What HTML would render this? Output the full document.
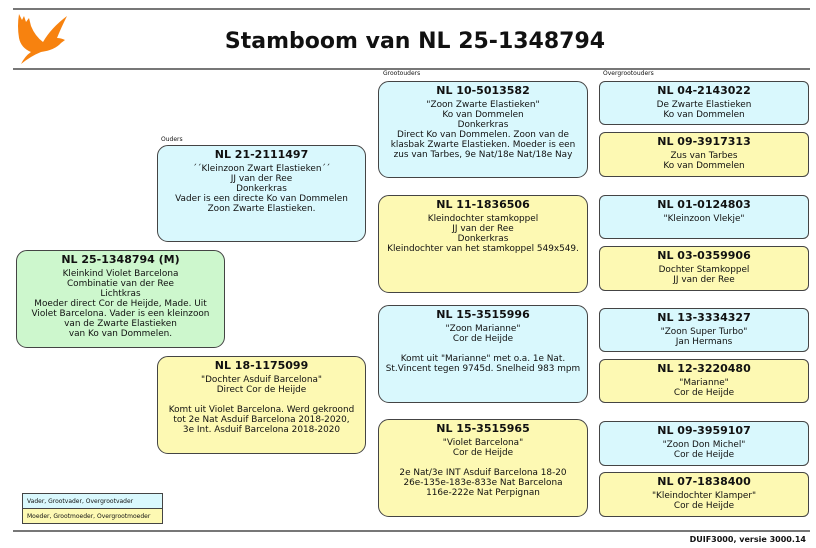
<!DOCTYPE html>
<html><head><meta charset="utf-8"><style>
*{margin:0;padding:0;box-sizing:border-box}
body{width:816px;height:548px;background:#fff;position:relative;overflow:hidden;font-family:"DejaVu Sans","Liberation Sans",sans-serif;color:#111}
.hl{position:absolute;left:13px;width:797px;height:2px;background:#777}
.b{position:absolute;border:1.3px solid #444;border-radius:11px;text-align:center;font-size:8.9px;line-height:10px;padding-top:2px;white-space:nowrap}
.s{border-radius:6px}
.b h{display:block;font-weight:bold;font-size:11px;line-height:14px;margin-bottom:2px}
.bl{background:#d9f8fd}.ye{background:#fdf9b3}.gr{background:#cdf7cd}
.lab{position:absolute;font-size:6px}
</style></head><body>
<div class="hl" style="top:8px"></div>
<div class="hl" style="top:68px"></div>
<svg style="position:absolute;left:15px;top:10px" width="54" height="56" viewBox="0 0 54 56">
<path d="M4 4 L7 10 L9 6 L11 12 L14 8 L16 16 Q20 26 28 32 Q36 18 52 6 Q46 18 42 28 Q46 28 50 30 L46 33 Q40 40 26 42 Q16 46 6 54 Q10 46 16 42 Q6 38 4 28 Q2 16 4 4 Z" fill="#f7820f"/>
</svg>
<div style="position:absolute;left:0;width:816px;top:28px;text-align:center;font-weight:bold;font-size:22px;line-height:28px;padding-left:14px">Stamboom van NL 25-1348794</div>
<div class="lab" style="left:161px;top:136px">Ouders</div>
<div class="lab" style="left:383px;top:70px">Grootouders</div>
<div class="lab" style="left:603px;top:70px">Overgrootouders</div>

<div class="b gr" style="left:16px;top:250px;width:209px;height:98px"><h>NL 25-1348794 (M)</h>Kleinkind Violet Barcelona<br>Combinatie van der Ree<br>Lichtkras<br>Moeder direct Cor de Heijde, Made. Uit<br>Violet Barcelona. Vader is een kleinzoon<br>van de Zwarte Elastieken<br>van Ko van Dommelen.</div>

<div class="b bl" style="left:157px;top:145px;width:209px;height:97px"><h>NL 21-2111497</h>´´Kleinzoon Zwart Elastieken´´<br>JJ van der Ree<br>Donkerkras<br>Vader is een directe Ko van Dommelen<br>Zoon Zwarte Elastieken.</div>
<div class="b ye" style="left:157px;top:356px;width:209px;height:98px"><h>NL 18-1175099</h>"Dochter Asduif Barcelona"<br>Direct Cor de Heijde<br><br>Komt uit Violet Barcelona. Werd gekroond<br>tot 2e Nat Asduif Barcelona 2018-2020,<br>3e Int. Asduif Barcelona 2018-2020</div>

<div class="b bl" style="left:378px;top:81px;width:210px;height:97px"><h>NL 10-5013582</h>"Zoon Zwarte Elastieken"<br>Ko van Dommelen<br>Donkerkras<br>Direct Ko van Dommelen. Zoon van de<br>klasbak Zwarte Elastieken. Moeder is een<br>zus van Tarbes, 9e Nat/18e Nat/18e Nay</div>
<div class="b ye" style="left:378px;top:195px;width:210px;height:98px"><h>NL 11-1836506</h>Kleindochter stamkoppel<br>JJ van der Ree<br>Donkerkras<br>Kleindochter van het stamkoppel 549x549.</div>
<div class="b bl" style="left:378px;top:305px;width:210px;height:98px"><h>NL 15-3515996</h>"Zoon Marianne"<br>Cor de Heijde<br><br>Komt uit "Marianne" met o.a. 1e Nat.<br>St.Vincent tegen 9745d. Snelheid 983 mpm</div>
<div class="b ye" style="left:378px;top:419px;width:210px;height:98px"><h>NL 15-3515965</h>"Violet Barcelona"<br>Cor de Heijde<br><br>2e Nat/3e INT Asduif Barcelona 18-20<br>26e-135e-183e-833e Nat Barcelona<br>116e-222e Nat Perpignan</div>

<div class="b s bl" style="left:599px;top:81px;width:210px;height:44px"><h>NL 04-2143022</h>De Zwarte Elastieken<br>Ko van Dommelen</div>
<div class="b s ye" style="left:599px;top:132px;width:210px;height:45px"><h>NL 09-3917313</h>Zus van Tarbes<br>Ko van Dommelen</div>
<div class="b s bl" style="left:599px;top:195px;width:210px;height:44px"><h>NL 01-0124803</h>"Kleinzoon Vlekje"</div>
<div class="b s ye" style="left:599px;top:246px;width:210px;height:45px"><h>NL 03-0359906</h>Dochter Stamkoppel<br>JJ van der Ree</div>
<div class="b s bl" style="left:599px;top:308px;width:210px;height:44px"><h>NL 13-3334327</h>"Zoon Super Turbo"<br>Jan Hermans</div>
<div class="b s ye" style="left:599px;top:359px;width:210px;height:44px"><h>NL 12-3220480</h>"Marianne"<br>Cor de Heijde</div>
<div class="b s bl" style="left:599px;top:421px;width:210px;height:45px"><h>NL 09-3959107</h>"Zoon Don Michel"<br>Cor de Heijde</div>
<div class="b s ye" style="left:599px;top:472px;width:210px;height:45px"><h>NL 07-1838400</h>"Kleindochter Klamper"<br>Cor de Heijde</div>

<div style="position:absolute;left:22px;top:493px;width:141px;height:31px;border:1px solid #444;font-size:6px">
<div style="height:15px;background:#d9f8fd;border-bottom:1px solid #444;padding:4px 0 0 4px">Vader, Grootvader, Overgrootvader</div>
<div style="height:14px;background:#fdf9b3;padding:4px 0 0 4px">Moeder, Grootmoeder, Overgrootmoeder</div>
</div>
<div class="hl" style="top:530px"></div>
<div style="position:absolute;right:10px;top:535px;font-size:8px;font-weight:bold">DUIF3000, versie 3000.14</div>
</body></html>
